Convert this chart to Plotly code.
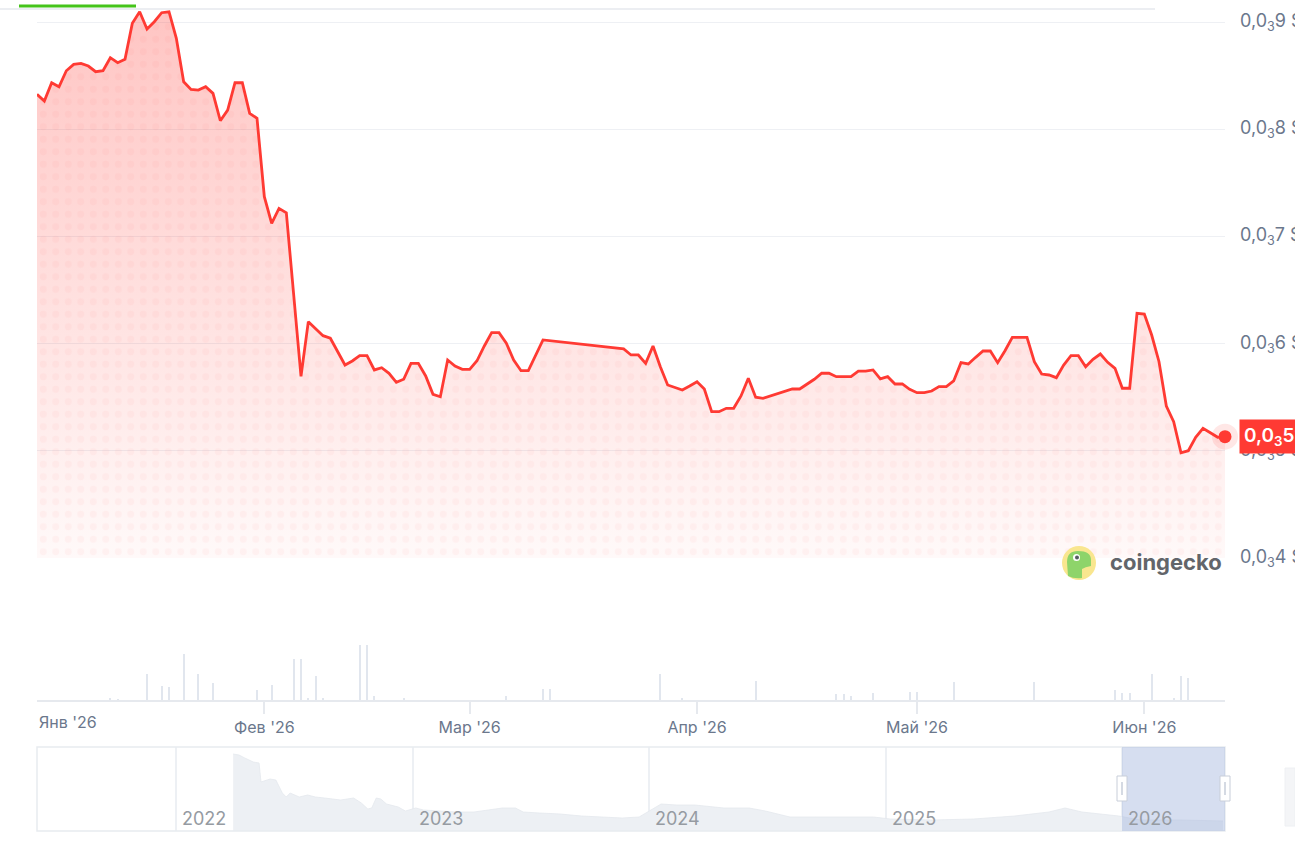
import plotly.graph_objects as go

W, H = 1295, 848


def px(x):
    return x / W


def py(y):
    return 1 - y / H


# ---------------- data ----------------
price_dates = (
    [f"2026-01-{d:02d}" for d in range(1, 32)]
    + ["2026-02-01", "2026-02-02", "2026-02-03", "2026-02-04"]
    + [f"2026-02-{d:02d}" for d in range(6, 29)]
    + [f"2026-03-{d:02d}" for d in range(1, 12)]
    + [f"2026-03-{d:02d}" for d in range(22, 32)]
    + [f"2026-04-{d:02d}" for d in range(1, 31)]
    + [f"2026-05-{d:02d}" for d in range(1, 32)]
    + [f"2026-06-{d:02d}" for d in range(1, 13)]
)

# price in units of 0.0001 $
price_e4 = [
    # Jan
    8.327, 8.264, 8.435, 8.398, 8.547, 8.607, 8.616, 8.591, 8.538, 8.547,
    8.669, 8.622, 8.654, 8.990, 9.098, 8.937, 9.005, 9.089, 9.098, 8.850,
    8.444, 8.373, 8.367, 8.398, 8.336, 8.080, 8.180, 8.435, 8.435, 8.149, 8.103,
    # Feb
    7.371, 7.122, 7.262, 7.221, 5.694, 6.204, 6.142, 6.073, 6.049, 5.923,
    5.799, 5.837, 5.886, 5.886, 5.753, 5.774, 5.722, 5.638, 5.666, 5.815,
    5.815, 5.697, 5.526, 5.503, 5.846, 5.790, 5.759,
    # Mar
    5.759, 5.839, 5.977, 6.101, 6.101, 6.002, 5.846, 5.746, 5.746, 5.886, 6.033,
    5.949, 5.893, 5.893, 5.815, 5.977, 5.783, 5.613, 5.591, 5.566, 5.603,
    # Apr
    5.643, 5.575, 5.363, 5.363, 5.395, 5.395, 5.510, 5.675, 5.498, 5.488,
    5.510, 5.535, 5.556, 5.575, 5.575, 5.622, 5.666, 5.722, 5.722, 5.690,
    5.690, 5.690, 5.743, 5.743, 5.753, 5.669, 5.690, 5.622, 5.622, 5.572,
    # May
    5.541, 5.541, 5.556, 5.597, 5.597, 5.650, 5.821, 5.809, 5.871, 5.930,
    5.930, 5.821, 5.933, 6.058, 6.058, 6.058, 5.830, 5.715, 5.706, 5.681,
    5.799, 5.886, 5.886, 5.783, 5.852, 5.902, 5.824, 5.768, 5.582, 5.582, 6.282,
    # Jun
    6.275, 6.079, 5.830, 5.416, 5.270, 4.980, 4.999, 5.124, 5.208, 5.167, 5.124, 5.130,
]
price = [v * 1e-4 for v in price_e4]

volume_dates = [
    "2026-01-11", "2026-01-12", "2026-01-16", "2026-01-18", "2026-01-19",
    "2026-01-21", "2026-01-23", "2026-01-25", "2026-01-31", "2026-02-02",
    "2026-02-05", "2026-02-06", "2026-02-07", "2026-02-08", "2026-02-09",
    "2026-02-14", "2026-02-15", "2026-02-16", "2026-02-20", "2026-03-06",
    "2026-03-11", "2026-03-12", "2026-03-27", "2026-03-30", "2026-04-09",
    "2026-04-20", "2026-04-21", "2026-04-22", "2026-04-25", "2026-04-30",
    "2026-05-01", "2026-05-06", "2026-05-17", "2026-05-28", "2026-05-29",
    "2026-05-30", "2026-06-02", "2026-06-05", "2026-06-06", "2026-06-07",
]
volume = [
    6, 3, 77, 42, 39, 137, 77, 52, 29, 44,
    122, 122, 5, 72, 5, 165, 165, 12, 5, 12,
    34, 34, 77, 5, 57, 17, 17, 12, 22, 25,
    25, 54, 54, 30, 22, 20, 77, 5, 72, 67,
]

nav_dates = [
    "2022-03-30", "2022-04-08", "2022-04-17", "2022-04-30", "2022-05-09",
    "2022-05-12", "2022-05-26", "2022-06-04", "2022-06-14", "2022-06-20",
    "2022-06-26", "2022-07-10", "2022-07-23", "2022-08-04", "2022-08-18",
    "2022-08-30", "2022-09-12", "2022-10-02", "2022-10-14", "2022-10-24",
    "2022-10-30", "2022-11-06", "2022-11-13", "2022-11-22", "2022-12-10",
    "2022-12-21", "2023-01-06", "2023-01-18", "2023-02-13", "2023-03-10",
    "2023-04-06", "2023-05-02", "2023-05-20", "2023-06-09", "2023-06-21",
    "2023-07-16", "2023-08-17", "2023-09-19", "2023-10-21", "2023-11-21",
    "2023-12-17", "2024-01-20", "2024-02-13", "2024-03-12", "2024-04-26",
    "2024-06-04", "2024-06-29", "2024-08-06", "2024-09-14", "2024-11-04",
    "2024-12-13", "2025-01-08", "2025-03-13", "2025-05-17", "2025-07-19",
    "2025-09-10", "2025-10-05", "2025-10-31", "2025-11-25", "2025-12-27",
    "2026-01-29", "2026-04-02", "2026-06-06",
]
nav_values = [
    77, 76, 73, 69, 68, 49, 52, 51, 38, 34,
    38, 34, 36, 34, 33, 32, 31, 33, 28, 22,
    23, 33, 32, 27, 24, 20, 23, 21, 20, 19,
    19, 21, 23, 23, 19, 18, 17, 15, 14, 13,
    14, 27, 26, 26, 23, 23, 20, 14, 14, 14,
    14, 12, 11, 12, 15, 19, 23, 19, 17, 15,
    11, 11, 10,
]

price_ticks = [0.0004, 0.0005, 0.0006, 0.0007, 0.0008, 0.0009]
price_tick_labels = [
    "0,0<sub>3</sub>4 $", "0,0<sub>3</sub>5 $", "0,0<sub>3</sub>6 $",
    "0,0<sub>3</sub>7 $", "0,0<sub>3</sub>8 $", "0,0<sub>3</sub>9 $",
]
month_ticks = ["2026-02-01", "2026-03-01", "2026-04-01", "2026-05-01", "2026-06-01"]
month_labels = ["Фев '26", "Мар '26", "Апр '26", "Май '26", "Июн '26"]
first_month_label = "Янв '26"
year_ticks = ["2022-01-01", "2023-01-01", "2024-01-01", "2025-01-01", "2026-01-01"]
year_labels = ["2022", "2023", "2024", "2025", "2026"]
last_price_label = "0,0<sub>3</sub>513 $"

RED = "#ff3a33"
TICK = "#6b778c"
FONT = "Inter"

main_range = ["2026-01-01", "2026-06-12"]
nav_range = ["2021-05-31", "2026-06-09"]

fig = go.Figure()

# gradient fill
fig.add_trace(go.Scatter(
    x=price_dates, y=price, mode="lines", line=dict(width=0, color=RED),
    fill="tozeroy",
    fillgradient=dict(type="vertical",
                      colorscale=[[0, "rgba(255,58,51,0.03)"], [1, "rgba(255,58,51,0.30)"]],
                      start=0.0004, stop=0.00092),
    hoverinfo="skip", xaxis="x", yaxis="y",
))
# dotted texture
fig.add_trace(go.Scatter(
    x=price_dates, y=price, mode="lines", line=dict(width=0, color="rgba(0,0,0,0)"),
    fill="tozeroy", fillcolor="rgba(0,0,0,0)",
    fillpattern=dict(shape=".", fgcolor="rgba(255,58,51,0.08)", bgcolor="rgba(0,0,0,0)",
                     size=12.5, solidity=0.25),
    hoverinfo="skip", xaxis="x", yaxis="y",
))
# line
fig.add_trace(go.Scatter(
    x=price_dates, y=price, mode="lines", line=dict(width=2.8, color=RED),
    xaxis="x", yaxis="y",
))
# last point halo + dot
fig.add_trace(go.Scatter(
    x=price_dates[-1:], y=price[-1:], mode="markers",
    marker=dict(size=26, color="rgba(255,58,51,0.12)"), cliponaxis=False,
    xaxis="x", yaxis="y", hoverinfo="skip",
))
fig.add_trace(go.Scatter(
    x=price_dates[-1:], y=price[-1:], mode="markers",
    marker=dict(size=13, color=RED), cliponaxis=False,
    xaxis="x", yaxis="y",
))

# volume
fig.add_trace(go.Bar(
    x=volume_dates, y=volume, marker=dict(color="#e1e6ee", line=dict(width=0)),
    width=1.1e7, xaxis="x2", yaxis="y2",
))

# navigator
fig.add_trace(go.Scatter(
    x=nav_dates, y=nav_values, mode="lines", line=dict(width=0.8, color="#e4e8ee"),
    fill="tozeroy", fillcolor="#edf0f4", xaxis="x3", yaxis="y3", hoverinfo="skip",
))

shapes = [
    # top tab underline
    dict(type="line", xref="paper", yref="paper", x0=0, x1=px(1155), y0=py(9), y1=py(9),
         line=dict(color="#eceef2", width=2)),
    dict(type="line", xref="paper", yref="paper", x0=px(19), x1=px(136), y0=py(6), y1=py(6),
         line=dict(color="#45c41a", width=3)),
    # navigator frame
    dict(type="rect", xref="paper", yref="paper", x0=px(37), x1=px(1225), y0=py(831), y1=py(747),
         line=dict(color="#e8ebf0", width=1.5), fillcolor="rgba(0,0,0,0)"),
    # selection
    dict(type="rect", xref="paper", yref="paper", x0=px(1122), x1=px(1225), y0=py(831), y1=py(747),
         line=dict(width=0), fillcolor="rgba(165,182,222,0.45)", layer="above"),
    # handles
    dict(type="rect", xref="paper", yref="paper", x0=px(1117), x1=px(1127), y0=py(801), y1=py(776),
         line=dict(color="#c8ced9", width=1), fillcolor="white", layer="above"),
    dict(type="rect", xref="paper", yref="paper", x0=px(1121), x1=px(1123), y0=py(795), y1=py(782),
         line=dict(width=0), fillcolor="#d5dae3", layer="above"),
    dict(type="rect", xref="paper", yref="paper", x0=px(1220), x1=px(1230), y0=py(801), y1=py(776),
         line=dict(color="#c8ced9", width=1), fillcolor="white", layer="above"),
    dict(type="rect", xref="paper", yref="paper", x0=px(1224), x1=px(1226), y0=py(795), y1=py(782),
         line=dict(width=0), fillcolor="#d5dae3", layer="above"),
    # partial button on right
    dict(type="rect", xref="paper", yref="paper", x0=px(1285), x1=px(1295), y0=py(826), y1=py(768),
         line=dict(color="#eef0f3", width=1), fillcolor="#f4f5f7"),
    # coingecko logo
    dict(type="circle", xref="paper", yref="paper", x0=px(1062), x1=px(1096), y0=py(580), y1=py(546),
         line=dict(width=0), fillcolor="#f9e68f", layer="above"),
    dict(type="path", xref="paper", yref="paper",
         path=(f"M {px(1068)} {py(576)} L {px(1067)} {py(562)} "
               f"Q {px(1067)} {py(551)} {px(1078)} {py(551)} "
               f"Q {px(1091)} {py(551)} {px(1091)} {py(560)} "
               f"L {px(1091)} {py(566)} Q {px(1085)} {py(567)} {px(1082)} {py(569)} "
               f"L {px(1082)} {py(578)} Q {px(1074)} {py(579)} {px(1068)} {py(576)} Z"),
         line=dict(width=0), fillcolor="#8ed46a", layer="above"),
    dict(type="circle", xref="paper", yref="paper", x0=px(1073), x1=px(1080), y0=py(561), y1=py(554),
         line=dict(width=0), fillcolor="white", layer="above"),
    dict(type="circle", xref="paper", yref="paper", x0=px(1075), x1=px(1079), y0=py(559.5), y1=py(555.5),
         line=dict(width=0), fillcolor="#555b63", layer="above"),
]

annotations = []
# price-axis labels (drawn as annotations so they clip at the page edge like the original)
for v, lab in zip(price_ticks, price_tick_labels):
    annotations.append(dict(text=lab, xref="paper", yref="y", x=px(1238), y=v,
                            xanchor="left", yanchor="middle", showarrow=False,
                            font=dict(size=18, color=TICK, family=FONT)))
annotations += [
    dict(text=first_month_label, xref="x2", yref="paper", x=main_range[0], y=py(722),
         xanchor="left", yanchor="middle", showarrow=False,
         font=dict(size=16, color=TICK, family=FONT)),
    dict(text=last_price_label, xref="paper", yref="y", x=px(1239), y=price[-1],
         xanchor="left", yanchor="middle", showarrow=False, bgcolor=RED, borderpad=4,
         font=dict(size=19, color="white", family=FONT, weight=600)),
    dict(text="<b>coingecko</b>", xref="paper", yref="paper", x=px(1108), y=py(562),
         xanchor="left", yanchor="middle", showarrow=False,
         font=dict(size=22, color="#62656a", family=FONT)),
]
for d, lab in zip(year_ticks, year_labels):
    annotations.append(dict(text=lab, xref="x3", yref="paper", x=d, y=py(818), xshift=4,
                            xanchor="left", yanchor="middle", showarrow=False,
                            font=dict(size=18, color="#969ba2", family=FONT)))

fig.update_layout(
    width=W, height=H, margin=dict(l=0, r=0, t=0, b=0),
    paper_bgcolor="white", plot_bgcolor="white", showlegend=False,
    font=dict(family=FONT, color=TICK),
    bargap=0,
    xaxis=dict(domain=[px(37), px(1225)], range=main_range, type="date", anchor="y",
               showticklabels=False, showgrid=False, zeroline=False, showline=False, ticks=""),
    yaxis=dict(domain=[py(558), py(8)], range=[0.0003997, 0.0009133], anchor="x", side="right",
               tickvals=price_ticks, showticklabels=False, showgrid=True,
               gridcolor="#eef0f4", gridwidth=1, zeroline=False, showline=False, ticks=""),
    xaxis2=dict(domain=[px(37), px(1225)], range=main_range, type="date", anchor="y2",
                tickvals=month_ticks, ticktext=month_labels, showgrid=False, zeroline=False,
                showline=True, linecolor="#e6e9ee", linewidth=1.5, ticks="outside", ticklen=12,
                tickcolor="#e6e9ee", tickwidth=1.5,
                tickfont=dict(size=16, color=TICK, family=FONT)),
    yaxis2=dict(domain=[py(700), py(645)], range=[0, 165], anchor="x2", visible=False),
    xaxis3=dict(domain=[px(37), px(1225)], range=nav_range, type="date", anchor="y3",
                tickvals=year_ticks, showticklabels=False, showgrid=True, gridcolor="#edf0f4",
                gridwidth=1.5, zeroline=False, showline=False, ticks=""),
    yaxis3=dict(domain=[py(831), py(747)], range=[0, 84], anchor="x3", visible=False),
    shapes=shapes,
    annotations=annotations,
)

fig.write_html("out.html")
